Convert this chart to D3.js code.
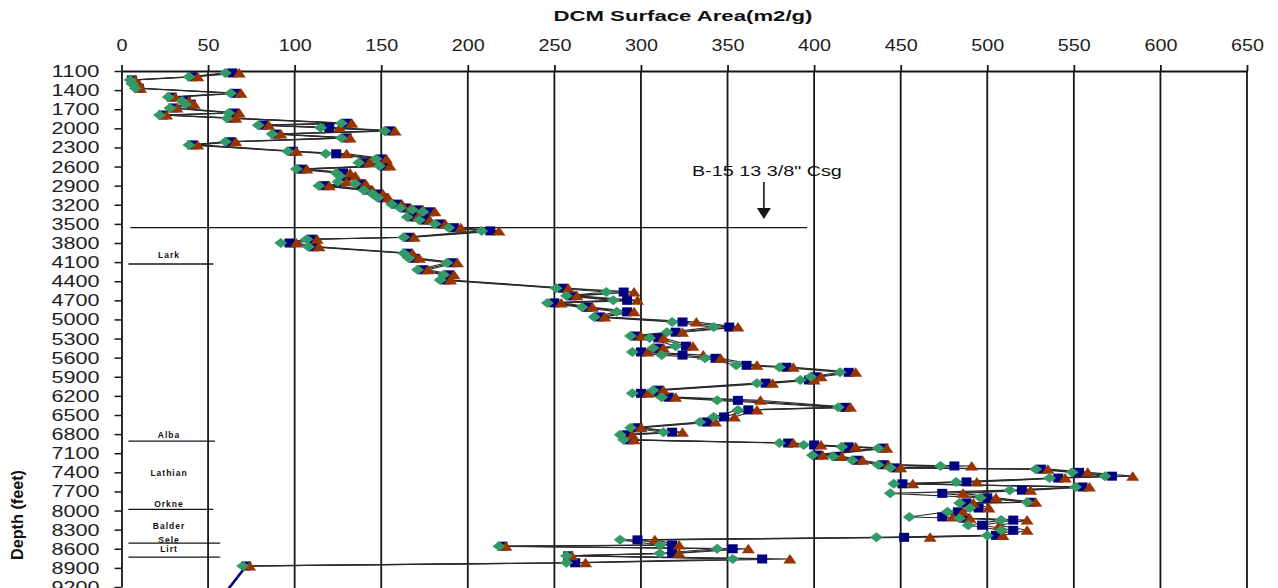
<!DOCTYPE html>
<html>
<head>
<meta charset="utf-8">
<script src="https://cdn.jsdelivr.net/npm/d3@7"></script>
<style>
body { margin: 0; background: #fff; }
svg { display: block; font-family: "Liberation Sans", Arial, sans-serif; }
</style>
</head>
<body>
<svg id="chart" width="1278" height="588"></svg>
<script>
// sample depths (feet) and surface area (m2/g) for the three runs
var depths = [1130, 1190, 1240, 1300, 1370, 1450, 1510, 1570, 1620, 1680,
    1760, 1790, 1840, 1920, 1950, 1990, 2040, 2090, 2150, 2210,
    2260, 2360, 2400, 2480, 2540, 2590, 2640, 2700, 2750, 2840,
    2870, 2900, 2970, 3030, 3090, 3190, 3250, 3280, 3310, 3390,
    3440, 3500, 3560, 3610, 3710, 3740, 3800, 3860, 3960, 4040,
    4110, 4220, 4300, 4380, 4510, 4570, 4630, 4700, 4740, 4810,
    4880, 4960, 5040, 5120, 5200, 5260, 5290, 5420, 5450, 5510,
    5560, 5610, 5720, 5750, 5830, 5900, 5950, 6000, 6110, 6160,
    6220, 6270, 6380, 6420, 6530, 6610, 6700, 6770, 6810, 6890,
    6940, 6970, 7000, 7020, 7130, 7150, 7210, 7280, 7300, 7330,
    7350, 7400, 7460, 7490, 7550, 7580, 7630, 7680, 7730, 7800,
    7870, 7880, 7960, 8020, 8100, 8120, 8150, 8230, 8310, 8390,
    8420, 8460, 8540, 8560, 8600, 8670, 8710, 8760, 8820, 8870,
    9500];

var blueVals = [64, 41, 6, 8, 10, 66, 29, 37, 40, 30,
    65, 24, 63, 130, 82, 120, 155, 89, 130, 63,
    41, 99, 124, 150, 140, 152, 104, 128, 130, 127,
    138, 117, 142, 148, 151, 159, 164, 171, 178, 168,
    175, 184, 192, 213, 166, 110, 97, 111, 165, 169,
    191, 174, 189, 187, 255, 290, 260, 292, 250, 269,
    292, 276, 324, 351, 320, 297, 310, 326, 310, 300,
    324, 343, 361, 384, 420, 401, 397, 372, 310, 300,
    316, 356, 418, 362, 348, 338, 298, 318, 292, 293,
    385, 400, 420, 440, 402, 413, 425, 440, 481, 447,
    531, 553, 572, 541, 488, 451, 555, 520, 474, 500,
    525, 488, 495, 483, 474, 487, 515, 497, 515, 505,
    452, 298, 318, 220, 353, 318, 258, 370, 262, 72,
    54];

var greenVals = [60, 39, 5, 6, 8, 63, 27, 35, 37, 28,
    62, 22, 61, 127, 79, 115, 152, 87, 127, 60,
    39, 96, 118, 147, 137, 149, 101, 124, 126, 125,
    135, 114, 140, 145, 148, 156, 161, 168, 174, 165,
    172, 181, 189, 208, 163, 107, 92, 108, 163, 166,
    188, 171, 186, 184, 251, 280, 257, 284, 246, 266,
    286, 273, 318, 342, 315, 294, 305, 320, 307, 295,
    312, 337, 355, 380, 415, 398, 392, 367, 307, 295,
    312, 344, 414, 356, 342, 334, 294, 313, 288, 290,
    380, 394, 416, 437, 399, 411, 422, 437, 473, 444,
    528, 549, 568, 536, 482, 446, 551, 513, 444, 496,
    523, 484, 490, 477, 455, 484, 508, 489, 508, 500,
    436, 288, 311, 218, 344, 311, 257, 353, 257, 70,
    null];

var redVals = [68, 44, 8, 10, 11, 69, 31, 39, 42, 32,
    68, 26, 66, 133, 85, 126, 158, 92, 132, 66,
    44, 101, 130, 153, 143, 155, 107, 132, 135, 130,
    141, 120, 145, 151, 154, 162, 167, 174, 181, 171,
    178, 187, 196, 218, 169, 113, 101, 114, 168, 172,
    194, 177, 192, 190, 258, 296, 263, 298, 254, 272,
    296, 279, 332, 356, 324, 300, 313, 330, 313, 304,
    336, 346, 367, 388, 424, 404, 400, 376, 313, 304,
    320, 369, 421, 367, 354, 343, 300, 324, 295, 296,
    388, 404, 424, 442, 405, 416, 428, 443, 491, 450,
    535, 558, 584, 545, 494, 457, 559, 525, 486, 505,
    528, 492, 501, 486, 480, 490, 523, 507, 523, 509,
    467, 308, 322, 222, 362, 322, 260, 386, 268, 74,
    null];

var xTicks = [0, 50, 100, 150, 200, 250, 300, 350, 400, 450, 500, 550, 600, 650];
var yTicks = [1100, 1400, 1700, 2000, 2300, 2600, 2900, 3200, 3500, 3800, 4100, 4400, 4700, 5000,
    5300, 5600, 5900, 6200, 6500, 6800, 7100, 7400, 7700, 8000, 8300, 8600, 8900, 9200];

// formation names and where they are written, boundary lines between them
var formationNames = ["Lark", "Alba", "Lathian", "Orkne", "Balder", "Sele", "Lirt"];
var formationLabelDepths = [3990, 6810, 7410, 7900, 8240, 8460, 8600];
var boundaryDepths = [4130, 6910, 7980, 8510, 8730];
var boundaryEnds = [53, 54, 53, 57, 57];

var casingDepth = 3560;
var casingEnd = 396;
var casingArrowAt = 371;
var casingLabel = "B-15 13 3/8\" Csg";

var svg = d3.select("#chart");

var x = d3.scaleLinear().domain([0, 650]).range([121.5, 1247]);
var y = d3.scaleLinear().domain([1100, 9200]).range([71, 587]);

var ink = "#161616";

// vertical grid lines
svg.append("g").selectAll("line").data(xTicks.slice(1)).enter().append("line")
    .attr("x1", function(d) { return x(d); })
    .attr("x2", function(d) { return x(d); })
    .attr("y1", y(1100))
    .attr("y2", 600)
    .attr("stroke", ink)
    .attr("stroke-width", 1.8);

// top axis
var xAxis = svg.append("g")
    .attr("transform", "translate(0," + y(1100) + ")")
    .call(d3.axisTop(x).tickValues(xTicks).tickSize(6).tickSizeOuter(0).tickPadding(14));
xAxis.select(".domain").attr("stroke", ink).attr("stroke-width", 1.8);
xAxis.selectAll(".tick line").attr("stroke", ink).attr("stroke-width", 1.8);
xAxis.selectAll(".tick text")
    .attr("font-size", 17)
    .attr("fill", "#1e1e1e")
    .attr("textLength", function(d) { return String(d).length * 11; })
    .attr("lengthAdjust", "spacingAndGlyphs");

// left axis
var yAxis = svg.append("g")
    .attr("transform", "translate(" + x(0) + ",0)")
    .call(d3.axisLeft(y).tickValues(yTicks).tickFormat(d3.format("d"))
        .tickSize(7).tickSizeOuter(0).tickPadding(15));
yAxis.select(".domain").attr("stroke", ink).attr("stroke-width", 1.8);
yAxis.selectAll(".tick line").attr("stroke", ink).attr("stroke-width", 1.5);
yAxis.selectAll(".tick text")
    .attr("font-size", 17)
    .attr("fill", "#1e1e1e")
    .attr("textLength", 48)
    .attr("lengthAdjust", "spacingAndGlyphs");

// titles
svg.append("text")
    .attr("x", 683).attr("y", 21)
    .attr("text-anchor", "middle")
    .attr("font-size", 15).attr("font-weight", "bold")
    .attr("textLength", 259).attr("lengthAdjust", "spacingAndGlyphs")
    .attr("fill", "#111")
    .text("DCM Surface Area(m2/g)");

svg.append("text")
    .attr("transform", "translate(23,515) rotate(-90)")
    .attr("text-anchor", "middle")
    .attr("font-size", 17).attr("font-weight", "bold")
    .attr("textLength", 90).attr("lengthAdjust", "spacingAndGlyphs")
    .attr("fill", "#111")
    .text("Depth (feet)");

// casing marker
svg.append("line")
    .attr("x1", x(5)).attr("x2", x(casingEnd))
    .attr("y1", y(casingDepth)).attr("y2", y(casingDepth))
    .attr("stroke", ink).attr("stroke-width", 1.2);
svg.append("text")
    .attr("x", x(casingArrowAt) + 3).attr("y", 176)
    .attr("text-anchor", "middle")
    .attr("font-size", 15)
    .attr("textLength", 150).attr("lengthAdjust", "spacingAndGlyphs")
    .attr("fill", "#111")
    .text(casingLabel);
svg.append("line")
    .attr("x1", x(casingArrowAt)).attr("x2", x(casingArrowAt))
    .attr("y1", 182).attr("y2", 210)
    .attr("stroke", ink).attr("stroke-width", 1.6);
svg.append("path")
    .attr("d", "M" + (x(casingArrowAt) - 7) + ",208 L" + (x(casingArrowAt) + 7) + ",208 L" + x(casingArrowAt) + ",219 Z")
    .attr("fill", ink);

// formation boundaries and names
svg.append("g").selectAll("line").data(boundaryDepths).enter().append("line")
    .attr("x1", x(4))
    .attr("x2", function(d, i) { return x(boundaryEnds[i]); })
    .attr("y1", function(d) { return y(d); })
    .attr("y2", function(d) { return y(d); })
    .attr("stroke", ink).attr("stroke-width", 1.3);

svg.append("g").selectAll("text").data(formationNames).enter().append("text")
    .attr("x", 169)
    .attr("y", function(d, i) { return y(formationLabelDepths[i]) + 3; })
    .attr("text-anchor", "middle")
    .attr("font-size", 8.5).attr("font-weight", "bold")
    .attr("letter-spacing", 1)
    .attr("fill", "#111")
    .text(function(d) { return d; });

// series lines
var rows = depths.map(function(d, i) {
    return { depth: d, blue: blueVals[i], green: greenVals[i], red: redVals[i] };
});

function lineFor(key) {
    return d3.line()
        .defined(function(d) { return d[key] != null; })
        .x(function(d) { return x(d[key]); })
        .y(function(d) { return y(d.depth); });
}

var lastTwo = rows.slice(rows.length - 2);
var mainRows = rows.slice(0, rows.length - 1);

["green", "red", "blue"].forEach(function(key) {
    svg.append("path")
        .datum(mainRows)
        .attr("d", lineFor(key))
        .attr("fill", "none")
        .attr("stroke", "#2a2a2a")
        .attr("stroke-width", 1.1);
});

// the blue run carries on below the sampled section
svg.append("path")
    .datum(lastTwo)
    .attr("d", lineFor("blue"))
    .attr("fill", "none")
    .attr("stroke", "#000080")
    .attr("stroke-width", 2.6);

// markers
var pts = mainRows;

svg.append("g").selectAll("rect").data(pts).enter().append("rect")
    .attr("x", function(d) { return x(d.blue) - 5; })
    .attr("y", function(d) { return y(d.depth) - 4.5; })
    .attr("width", 10).attr("height", 9)
    .attr("fill", "#000080");

svg.append("g").selectAll("path").data(pts.filter(function(d) { return d.red != null; })).enter().append("path")
    .attr("d", function(d) {
        var cx = x(d.red), cy = y(d.depth);
        return "M" + (cx - 6.5) + "," + (cy + 4.5) + "L" + cx + "," + (cy - 5) + "L" + (cx + 6.5) + "," + (cy + 4.5) + "Z";
    })
    .attr("fill", "#993300");

svg.append("g").selectAll("path").data(pts.filter(function(d) { return d.green != null; })).enter().append("path")
    .attr("d", function(d) {
        var cx = x(d.green), cy = y(d.depth);
        return "M" + (cx - 6.5) + "," + cy + "L" + cx + "," + (cy - 5) + "L" + (cx + 6.5) + "," + cy + "L" + cx + "," + (cy + 5) + "Z";
    })
    .attr("fill", "#339966");
</script>
</body>
</html>
